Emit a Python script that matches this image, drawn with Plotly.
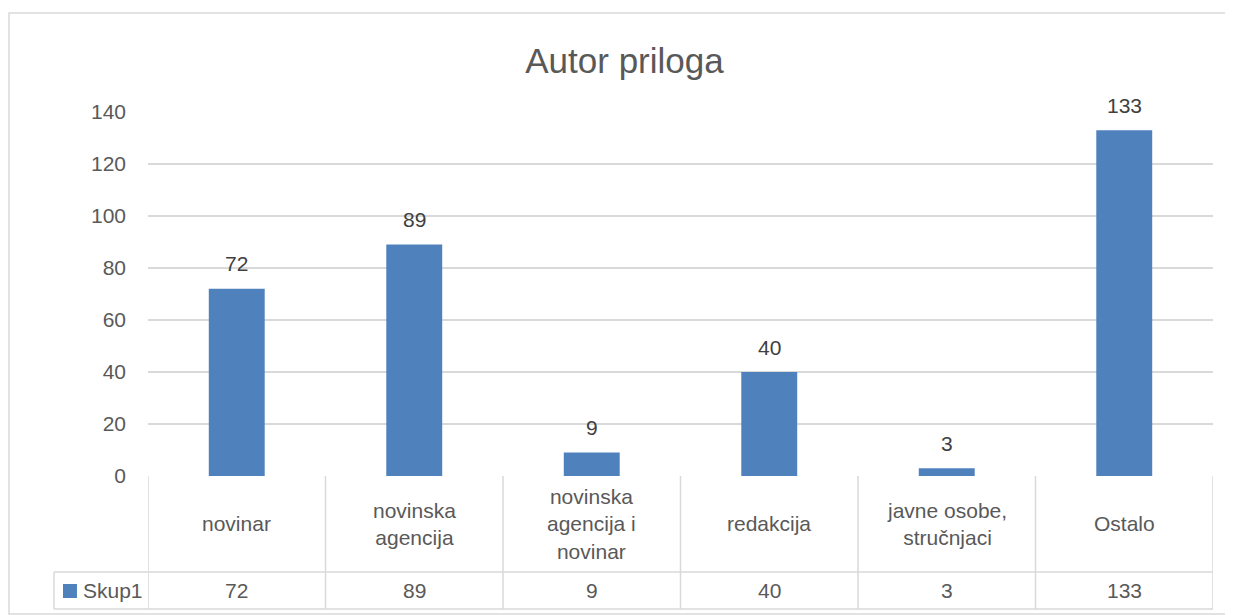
import plotly.graph_objects as go

# podaci
kategorije = ["novinar", "novinska<br>agencija", "novinska<br>agencija i<br>novinar",
              "redakcija", "javne osobe,<br>stručnjaci", "Ostalo"]
skup1 = [72, 89, 9, 40, 3, 133]
naziv_serije = "Skup1"
y_ticks = [0, 20, 40, 60, 80, 100, 120, 140]

txt = "#595959"
plava = "#4F81BD"
siva = "#D9D9D9"
font = "Liberation Sans"

x_idx = list(range(len(kategorije)))

fig = go.Figure(go.Bar(x=x_idx, y=skup1, marker_color=plava, marker_line_width=0,
                       width=0.315, hoverinfo="skip"))

# tablica ispod grafikona (u paper koordinatama)
red1, red2 = -0.2637, -0.3654
leg_x = -0.0883
shapes = []
# okvir grafikona
shapes.append(dict(type="rect", xref="paper", yref="paper", x0=-0.1305, x1=1.0169,
                   y0=-0.379, y1=1.272, line=dict(color=siva, width=1.5)))
# vodoravne linije tablice
shapes.append(dict(type="line", xref="paper", yref="paper", x0=leg_x, x1=1, y0=red1, y1=red1,
                   line=dict(color=siva, width=1.5)))
shapes.append(dict(type="line", xref="paper", yref="paper", x0=leg_x, x1=1, y0=red2, y1=red2,
                   line=dict(color=siva, width=1.5)))
shapes.append(dict(type="line", xref="paper", yref="paper", x0=leg_x, x1=leg_x, y0=red1, y1=red2,
                   line=dict(color=siva, width=1.5)))
# okomite linije
for i in range(len(kategorije) + 1):
    shapes.append(dict(type="line", xref="x", yref="paper", x0=i - 0.5, x1=i - 0.5, y0=0, y1=red2,
                       line=dict(color=siva, width=1.5)))
# kvadratic legende
shapes.append(dict(type="rect", xref="paper", yref="paper", x0=-0.0798, x1=-0.0667,
                   y0=-0.2967, y1=-0.3352, fillcolor=plava, line=dict(width=0)))

ann = []
for i, (k, v) in enumerate(zip(kategorije, skup1)):
    ann.append(dict(x=i, y=v, xref="x", yref="y", text=str(v), showarrow=False,
                    yshift=25, yanchor="middle",
                    font=dict(size=21, color="#404040", family=font)))
    ann.append(dict(x=i, y=(0 + red1) / 2, xref="x", yref="paper", text=k, showarrow=False,
                    yanchor="middle", xanchor="center",
                    font=dict(size=21, color=txt, family=font), align="center"))
    ann.append(dict(x=i, y=(red1 + red2) / 2, xref="x", yref="paper", text=str(v), showarrow=False,
                    yanchor="middle", xanchor="center",
                    font=dict(size=21, color=txt, family=font)))
ann.append(dict(x=-0.0629, y=(red1 + red2) / 2, xref="paper", yref="paper", text=naziv_serije,
                showarrow=False, xanchor="left", yanchor="middle",
                font=dict(size=21, color=txt, family=font)))

fig.update_layout(
    width=1233, height=615,
    margin=dict(l=140, r=28, t=104, b=147),
    paper_bgcolor="white", plot_bgcolor="white",
    showlegend=False,
    title=dict(text="Autor priloga", x=0.5, xanchor="center", y=0.915, yanchor="middle",
               font=dict(size=35, color=txt, family=font)),
    xaxis=dict(range=[-0.5, len(kategorije) - 0.5], showticklabels=False, showgrid=False,
               zeroline=False, showline=False, fixedrange=True),
    yaxis=dict(range=[0, 140], tickvals=y_ticks, showgrid=True, gridcolor=siva, gridwidth=1.5,
               zeroline=False, showline=False, ticklabelstandoff=21,
               tickfont=dict(size=21, color=txt, family=font)),
    shapes=shapes, annotations=ann,
)

fig.write_html("out.html")
